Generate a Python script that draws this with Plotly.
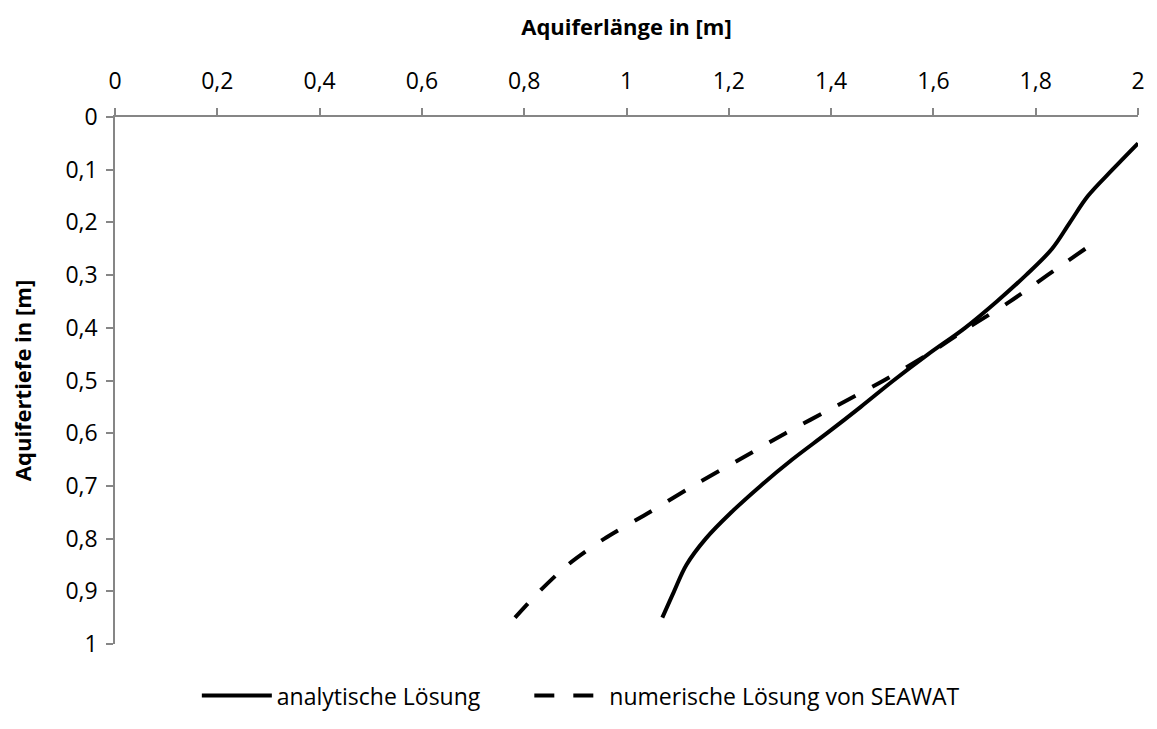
import plotly.graph_objects as go

# Depth levels (m) and horizontal position of the interface (m)
depth_analytic = [0.05, 0.10, 0.15, 0.20, 0.25, 0.30, 0.35, 0.40, 0.45, 0.50,
                  0.55, 0.60, 0.65, 0.70, 0.75, 0.80, 0.85, 0.90, 0.95]
length_analytic = [2.000, 1.950, 1.902, 1.867, 1.832, 1.781, 1.724, 1.662, 1.590, 1.522,
                   1.458, 1.392, 1.324, 1.262, 1.205, 1.155, 1.117, 1.093, 1.070]

depth_seawat = [0.25, 0.30, 0.35, 0.40, 0.45, 0.50, 0.55, 0.60,
                0.65, 0.70, 0.75, 0.80, 0.85, 0.90, 0.95]
length_seawat = [1.897, 1.823, 1.750, 1.668, 1.590, 1.503, 1.407, 1.311,
                 1.221, 1.130, 1.045, 0.957, 0.885, 0.830, 0.782]

x_ticks = [0, 0.2, 0.4, 0.6, 0.8, 1.0, 1.2, 1.4, 1.6, 1.8, 2.0]
x_tick_text = ["0", "0,2", "0,4", "0,6", "0,8", "1", "1,2", "1,4", "1,6", "1,8", "2"]
y_ticks = [0, 0.1, 0.2, 0.3, 0.4, 0.5, 0.6, 0.7, 0.8, 0.9, 1.0]
y_tick_text = ["0", "0,1", "0,2", "0,3", "0,4", "0,5", "0,6", "0,7", "0,8", "0,9", "1"]

FONT = "Open Sans"
AXIS_GREY = "#868686"

fig = go.Figure()
fig.add_trace(go.Scatter(
    x=length_analytic, y=depth_analytic, mode="lines",
    name="analytische Lösung", legend="legend", showlegend=True,
    line=dict(color="black", width=4, shape="spline", smoothing=1.0),
))
fig.add_trace(go.Scatter(
    x=length_seawat, y=depth_seawat, mode="lines",
    name="numerische Lösung von SEAWAT", legend="legend2", showlegend=True,
    line=dict(color="black", width=4, dash="20px,19px", shape="spline", smoothing=0.8),
))

axis_common = dict(
    showline=True, linecolor=AXIS_GREY, linewidth=1.5,
    ticks="outside", ticklen=7, tickwidth=1.5, tickcolor=AXIS_GREY,
    showgrid=False, zeroline=False,
    tickfont=dict(family=FONT, size=23, color="black"),
)

legend_common = dict(
    orientation="h", y=-0.098, yanchor="middle", xanchor="left",
    font=dict(family=FONT, size=23, color="black"), itemwidth=70,
    bgcolor="rgba(0,0,0,0)", visible=True,
)

fig.update_layout(
    width=1157, height=729,
    showlegend=True,
    margin=dict(l=114.5, r=12.5, t=117.3, b=66.3),
    paper_bgcolor="white", plot_bgcolor="white",
    font=dict(family=FONT, color="black"),
    xaxis=dict(
        side="top", range=[0, 2], tickvals=x_ticks, ticktext=x_tick_text,
        ticklabelstandoff=10,
        title=dict(text="<b>Aquiferlänge in [m]</b>", font=dict(family=FONT, size=22), standoff=22),
        **axis_common,
    ),
    yaxis=dict(
        range=[1, 0], tickvals=y_ticks, ticktext=y_tick_text,
        ticklabelstandoff=4,
        title=dict(text="<b>Aquifertiefe in [m]</b>", font=dict(family=FONT, size=22), standoff=28),
        **axis_common,
    ),
    legend=dict(x=0.080, **legend_common),
    legend2=dict(x=0.405, **legend_common),
)

fig.write_html("out.html")
